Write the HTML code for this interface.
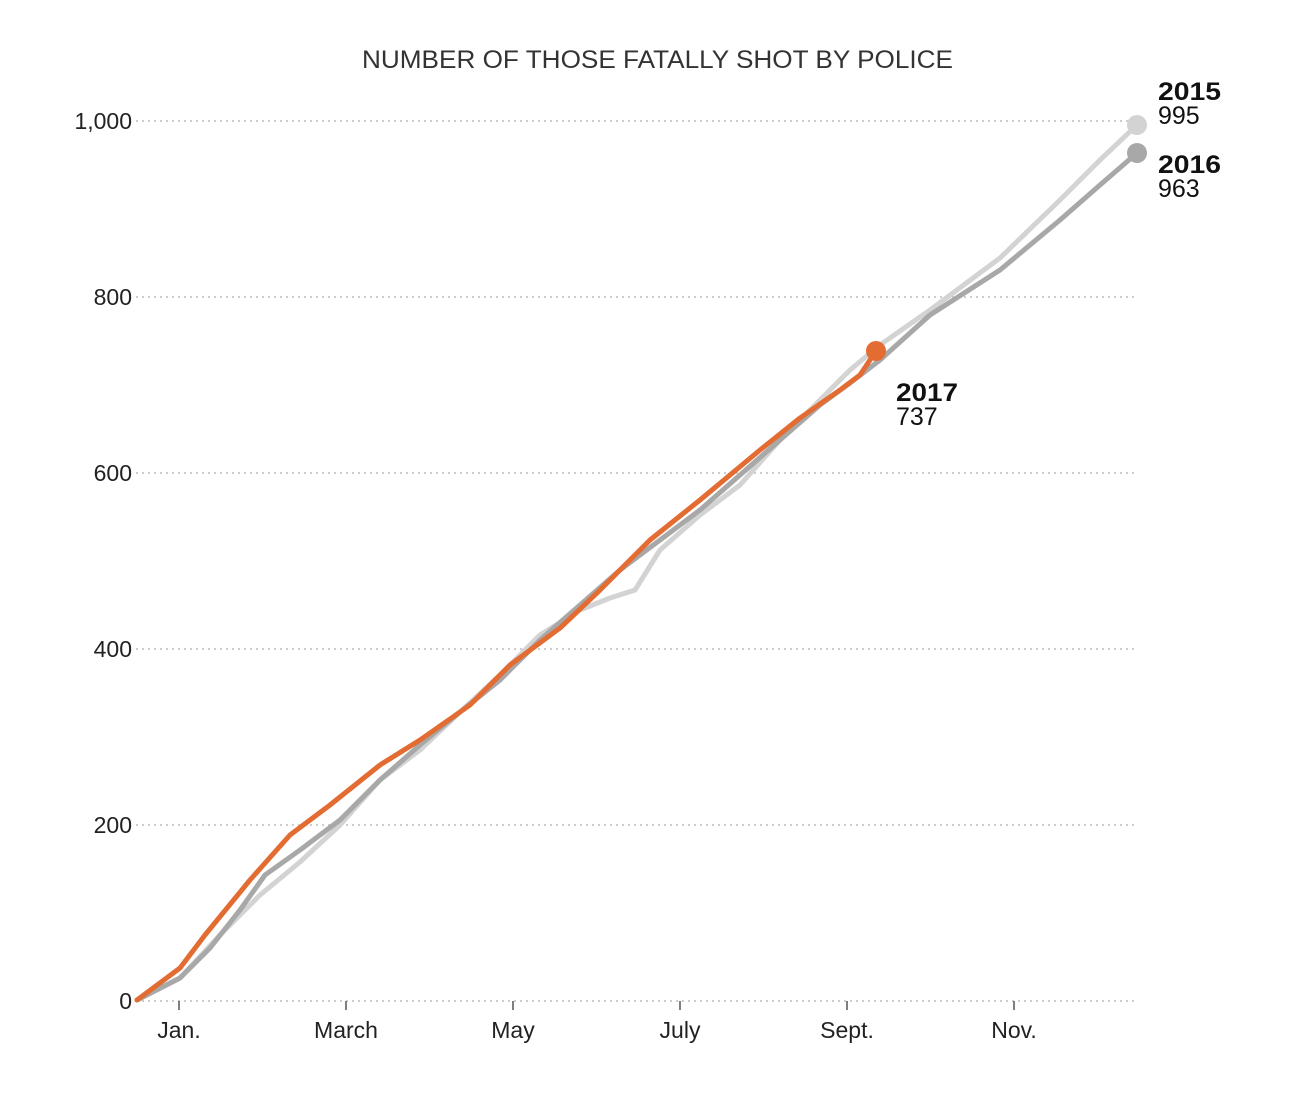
<!DOCTYPE html>
<html><head><meta charset="utf-8"><style>
body{margin:0;background:#fff;}
svg{display:block;font-family:"Liberation Sans",sans-serif;}
</style></head><body>
<svg width="1306" height="1110" viewBox="0 0 1306 1110">
<text x="362" y="68" font-size="25" fill="#333" textLength="591" lengthAdjust="spacingAndGlyphs">NUMBER OF THOSE FATALLY SHOT BY POLICE</text>
<g stroke="#bbb" stroke-width="1.5" stroke-dasharray="2,4">
<line x1="136" x2="1137" y1="121" y2="121"/><line x1="136" x2="1137" y1="297" y2="297"/>
<line x1="136" x2="1137" y1="473" y2="473"/><line x1="136" x2="1137" y1="649" y2="649"/>
<line x1="136" x2="1137" y1="825" y2="825"/><line x1="136" x2="1137" y1="1001" y2="1001"/>
</g>
<g font-size="23" fill="#222" text-anchor="end">
<text x="132" y="129">1,000</text><text x="132" y="305">800</text><text x="132" y="481">600</text>
<text x="132" y="657">400</text><text x="132" y="833">200</text><text x="132" y="1009">0</text>
</g>
<g stroke="#555" stroke-width="1.5">
<line x1="179" x2="179" y1="1001" y2="1010"/><line x1="346" x2="346" y1="1001" y2="1010"/>
<line x1="513" x2="513" y1="1001" y2="1010"/><line x1="680" x2="680" y1="1001" y2="1010"/>
<line x1="847" x2="847" y1="1001" y2="1010"/><line x1="1014" x2="1014" y1="1001" y2="1010"/>
</g>
<g font-size="23" fill="#222" text-anchor="middle">
<text x="179" y="1038">Jan.</text><text x="346" y="1038">March</text><text x="513" y="1038">May</text>
<text x="680" y="1038">July</text><text x="847" y="1038">Sept.</text><text x="1014" y="1038">Nov.</text>
</g>
<g fill="none" stroke-width="5" stroke-linejoin="round" stroke-linecap="round">
<polyline stroke="#d3d3d3" points="137,1000 180,978 220,935 260,895 300,862 340,825 380,780 420,750 460,712 500,675 540,635 580,610 610,598 635,590 660,550 700,515 740,485 780,440 820,400 850,370 880,345 930,310 1000,258 1060,200 1100,160 1137,125"/>
<polyline stroke="#a8a8a8" points="137,1000 180,978 210,948 240,910 265,875 300,850 340,820 380,780 420,745 460,712 500,680 540,640 580,605 620,570 660,540 700,510 740,475 780,440 820,405 850,383 880,360 930,315 1000,270 1060,220 1100,185 1137,153"/>
<polyline stroke="#e36c33" points="137,1000 180,968 205,935 250,880 290,835 330,805 380,765 420,740 470,705 510,665 560,628 600,590 650,540 700,500 760,450 800,418 840,390 860,375 876,351"/>
</g>
<circle cx="1137" cy="125" r="10" fill="#d3d3d3"/>
<circle cx="1137" cy="153" r="10" fill="#a8a8a8"/>
<circle cx="876" cy="351" r="10" fill="#e36c33"/>
<g font-size="25" fill="#111">
<text x="1158" y="100" font-weight="bold" textLength="63" lengthAdjust="spacingAndGlyphs">2015</text><text x="1158" y="124">995</text>
<text x="1158" y="173" font-weight="bold" textLength="63" lengthAdjust="spacingAndGlyphs">2016</text><text x="1158" y="197">963</text>
<text x="896" y="401" font-weight="bold" textLength="62" lengthAdjust="spacingAndGlyphs">2017</text><text x="896" y="425">737</text>
</g>
</svg>
</body></html>
